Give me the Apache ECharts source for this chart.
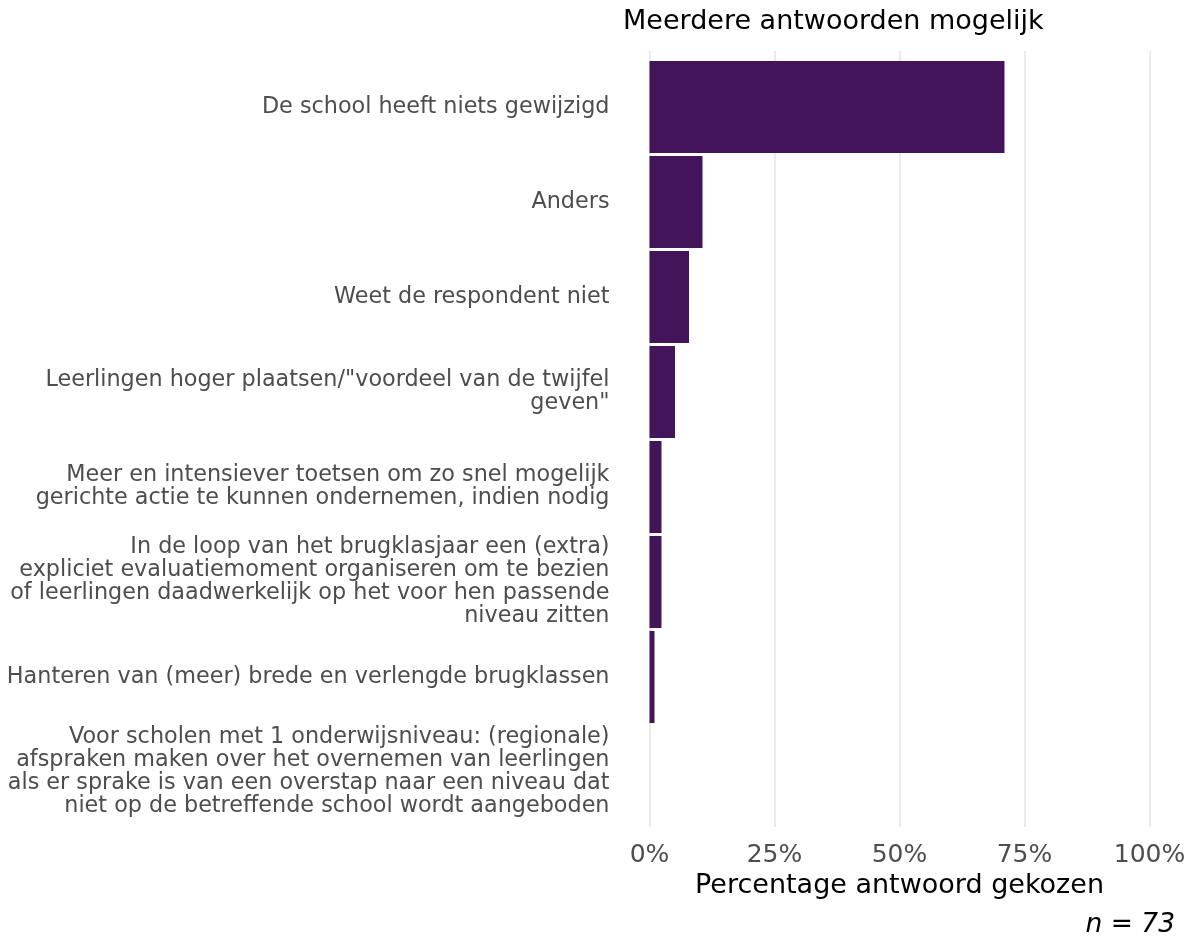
<!DOCTYPE html>
<html>
<head>
<meta charset="utf-8">
<script src="https://cdn.jsdelivr.net/npm/echarts@6/dist/echarts.min.js"></script>
<style>
html,body{margin:0;padding:0;background:#fff;}
#chart{width:1197px;height:936px;}
</style>
</head>
<body>
<div id="chart"></div>
<script>
const categories = [
  "De school heeft niets gewijzigd",
  "Anders",
  "Weet de respondent niet",
  "Leerlingen hoger plaatsen/\"voordeel van de twijfel\ngeven\"",
  "Meer en intensiever toetsen om zo snel mogelijk\ngerichte actie te kunnen ondernemen, indien nodig",
  "In de loop van het brugklasjaar een (extra)\nexpliciet evaluatiemoment organiseren om te bezien\nof leerlingen daadwerkelijk op het voor hen passende\nniveau zitten",
  "Hanteren van (meer) brede en verlengde brugklassen",
  "Voor scholen met 1 onderwijsniveau: (regionale)\nafspraken maken over het overnemen van leerlingen\nals er sprake is van een overstap naar een niveau dat\nniet op de betreffende school wordt aangeboden"
];
const percentages = [71.0, 10.6, 7.9, 5.1, 2.4, 2.4, 1.0, 0];
const xTicks = [0, 25, 50, 75, 100];
const titleText = "Meerdere antwoorden mogelijk";
const xAxisTitle = "Percentage antwoord gekozen";
const noteText = "n = 73";

const FONT = "'DejaVu Sans', Verdana, sans-serif";
const chart = echarts.init(document.getElementById('chart'), null, {renderer: 'canvas'});

const option = {
  backgroundColor: '#ffffff',
  animation: false,
  grid: [
    {left: 649.5, right: 47.5, top: 59.5, height: 760, containLabel: false},
    {left: 649.5, right: 47.5, top: 51, height: 776, containLabel: false}
  ],
  xAxis: [
    {
      type: 'value', gridIndex: 0, min: xTicks[0], max: xTicks[xTicks.length - 1], interval: 25,
      axisLine: {show: false}, axisTick: {show: false}, splitLine: {show: false},
      axisLabel: {formatter: '{value}%', color: '#4d4d4d', fontSize: 25, fontFamily: FONT, margin: 23},
      name: xAxisTitle, nameLocation: 'middle', nameGap: 52,
      nameTextStyle: {color: '#000', fontSize: 27, fontFamily: FONT}
    },
    {
      type: 'value', gridIndex: 1, min: 0, max: 100, interval: 25,
      axisLine: {show: false}, axisTick: {show: false}, axisLabel: {show: false},
      splitLine: {show: true, lineStyle: {color: '#ebebeb', width: 2}}
    }
  ],
  yAxis: [
    {
      type: 'category', gridIndex: 0, data: categories, inverse: true,
      axisLine: {show: false}, axisTick: {show: false}, splitLine: {show: false},
      axisLabel: {color: '#4d4d4d', fontSize: 22.3, lineHeight: 23, fontFamily: FONT, margin: 40, align: 'right'}
    },
    {type: 'value', gridIndex: 1, show: false}
  ],
  series: [{
    type: 'bar', xAxisIndex: 0, yAxisIndex: 0,
    data: percentages,
    barCategoryGap: '3%',
    itemStyle: {color: '#44145b'},
    z: 3
  }],
  graphic: [
    {type: 'text', left: 623, top: 8, style: {text: titleText, fill: '#000', fontSize: 27, fontFamily: FONT}},
    {type: 'text', right: 22, top: 912, style: {text: noteText, fill: '#000', fontSize: 26.5, fontStyle: 'italic', fontFamily: FONT}}
  ]
};
chart.setOption(option);
</script>
</body>
</html>
